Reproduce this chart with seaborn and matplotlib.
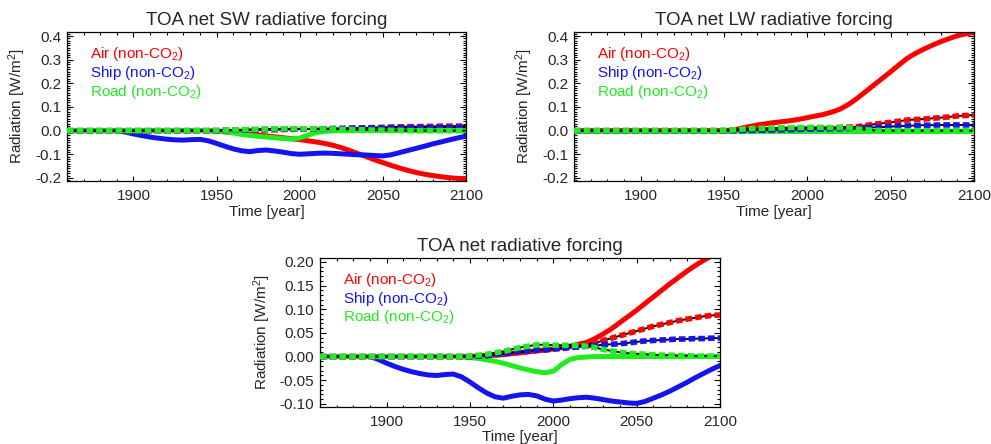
import matplotlib
matplotlib.use("Agg")
import matplotlib.pyplot as plt
import seaborn as sns
from matplotlib.ticker import MultipleLocator, FormatStrFormatter

# years 1860..2100, every 5 years
years = list(range(1860, 2101, 5))

# --- TOA net SW ---
sw_air = [0, 0, 0, 0, 0, 0, 0, 0, 0, 0,
          0, 0, 0, 0, 0, 0, 0, 0, -0.003, -0.005,
          -0.008, -0.011, -0.015, -0.018, -0.022, -0.026, -0.030, -0.034, -0.038, -0.043,
          -0.048, -0.054, -0.062, -0.072, -0.084, -0.097, -0.110, -0.123, -0.135, -0.147,
          -0.158, -0.168, -0.177, -0.184, -0.190, -0.195, -0.199, -0.202, -0.203]
sw_ship = [0, 0, 0, 0, 0, 0, 0, -0.006, -0.014, -0.021,
           -0.027, -0.032, -0.036, -0.039, -0.040, -0.038, -0.037, -0.043, -0.054, -0.066,
           -0.077, -0.085, -0.089, -0.084, -0.082, -0.086, -0.091, -0.097, -0.100, -0.098,
           -0.096, -0.095, -0.096, -0.098, -0.100, -0.102, -0.103, -0.105, -0.107, -0.102,
           -0.093, -0.084, -0.075, -0.066, -0.056, -0.048, -0.039, -0.031, -0.023]
sw_road = [0, 0, 0, 0, 0, 0, 0, 0, 0, 0,
           0, 0, 0, 0, 0, 0, 0, 0, -0.002, -0.005,
           -0.010, -0.016, -0.020, -0.024, -0.027, -0.030, -0.033, -0.036, -0.031, -0.019,
           -0.008, -0.003, -0.001, 0, 0, 0, 0, 0, 0, 0,
           0, 0, 0, 0, 0, 0, 0, 0, 0]
sw_air_d = [0, 0, 0, 0, 0, 0, 0, 0, 0, 0,
            0, 0, 0, 0, 0, 0, 0, 0, 0.000, 0.001,
            0.002, 0.002, 0.003, 0.003, 0.004, 0.004, 0.005, 0.005, 0.006, 0.006,
            0.007, 0.008, 0.008, 0.009, 0.010, 0.011, 0.012, 0.013, 0.014, 0.015,
            0.016, 0.017, 0.017, 0.018, 0.018, 0.019, 0.019, 0.019, 0.020]
sw_ship_d = [0, 0, 0, 0, 0, 0, 0, 0, 0, 0,
             0, 0, 0, 0, 0, 0, 0, 0, 0.000, 0.001,
             0.002, 0.003, 0.003, 0.004, 0.005, 0.005, 0.006, 0.006, 0.007, 0.007,
             0.008, 0.008, 0.009, 0.009, 0.010, 0.011, 0.011, 0.012, 0.012, 0.013,
             0.013, 0.013, 0.014, 0.014, 0.014, 0.015, 0.015, 0.015, 0.015]
sw_road_d = [0, 0, 0, 0, 0, 0, 0, 0, 0, 0,
             0, 0, 0, 0, 0, 0, 0, 0, 0.001, 0.002,
             0.003, 0.004, 0.005, 0.006, 0.007, 0.008, 0.008, 0.008, 0.008, 0.008,
             0.008, 0.007, 0.007, 0.006, 0.005, 0.004, 0.003, 0.002, 0.002, 0.001,
             0.001, 0.000, 0, 0, 0, 0, 0, 0, 0]

# --- TOA net LW ---
lw_air = [0, 0, 0, 0, 0, 0, 0, 0, 0, 0,
          0, 0, 0, 0, 0, 0, 0, 0, 0, 0.002,
          0.010, 0.017, 0.024, 0.029, 0.034, 0.038, 0.042, 0.048, 0.055, 0.062,
          0.069, 0.079, 0.092, 0.112, 0.137, 0.165, 0.193, 0.221, 0.249, 0.278,
          0.306, 0.327, 0.345, 0.361, 0.376, 0.389, 0.401, 0.409, 0.415]
lw_ship = [0, 0, 0, 0, 0, 0, 0, 0, 0, 0,
           0, 0, 0, 0, 0, 0, 0, 0, 0, 0,
           0, 0, 0, 0, 0, 0, 0, 0, 0, 0,
           0, 0, 0, 0, 0, 0, 0, 0, 0, 0,
           0, 0, 0, 0, 0, 0, 0, 0, 0]
lw_road = [0, 0, 0, 0, 0, 0, 0, 0, 0, 0,
           0, 0, 0, 0, 0, 0, 0, 0, 0, 0,
           0, 0, 0, 0, 0, 0, 0, 0, 0, 0,
           0, 0, 0, 0, 0, 0, 0, 0, 0, 0,
           0, 0, 0, 0, 0, 0, 0, 0, 0]
lw_air_d = [0, 0, 0, 0, 0, 0, 0, 0, 0, 0,
            0, 0, 0, 0, 0, 0, 0, 0, 0.000, 0.001,
            0.001, 0.002, 0.003, 0.004, 0.005, 0.006, 0.007, 0.008, 0.009, 0.010,
            0.011, 0.012, 0.014, 0.015, 0.017, 0.022, 0.027, 0.031, 0.035, 0.040,
            0.045, 0.047, 0.049, 0.052, 0.055, 0.058, 0.062, 0.064, 0.066]
lw_ship_d = [0, 0, 0, 0, 0, 0, 0, 0, 0, 0,
             0, 0, 0, 0, 0, 0, 0, 0, 0, 0,
             0.001, 0.001, 0.002, 0.002, 0.003, 0.004, 0.004, 0.005, 0.006, 0.006,
             0.007, 0.008, 0.008, 0.009, 0.010, 0.012, 0.014, 0.015, 0.017, 0.019,
             0.020, 0.022, 0.023, 0.023, 0.024, 0.024, 0.024, 0.024, 0.024]
lw_road_d = [0, 0, 0, 0, 0, 0, 0, 0, 0, 0,
             0, 0, 0, 0, 0, 0, 0, 0, 0.001, 0.003,
             0.006, 0.008, 0.009, 0.010, 0.011, 0.012, 0.013, 0.013, 0.014, 0.014,
             0.014, 0.013, 0.013, 0.012, 0.007, 0.004, 0.001, 0.000, 0, 0,
             0, 0, 0, 0, 0, 0, 0, 0, 0]

# --- TOA net ---
net_air = [0, 0, 0, 0, 0, 0, 0, 0, 0, 0,
           0, 0, 0, 0, 0, 0, 0, 0, 0.000, 0.001,
           0.002, 0.003, 0.004, 0.006, 0.008, 0.010, 0.012, 0.014, 0.016, 0.019,
           0.022, 0.026, 0.030, 0.038, 0.048, 0.059, 0.072, 0.085, 0.098, 0.112,
           0.126, 0.140, 0.154, 0.167, 0.180, 0.192, 0.203, 0.213, 0.224]
net_ship = [0, 0, 0, 0, 0, 0, 0, -0.006, -0.014, -0.021,
            -0.027, -0.032, -0.036, -0.039, -0.040, -0.038, -0.037, -0.043, -0.054, -0.066,
            -0.077, -0.085, -0.088, -0.084, -0.081, -0.080, -0.083, -0.090, -0.094, -0.092,
            -0.089, -0.087, -0.086, -0.088, -0.091, -0.094, -0.096, -0.098, -0.099, -0.095,
            -0.088, -0.081, -0.073, -0.064, -0.055, -0.045, -0.036, -0.027, -0.019]
net_road = [0, 0, 0, 0, 0, 0, 0, 0, 0, 0,
            0, 0, 0, 0, 0, 0, 0, -0.001, -0.002, -0.004,
            -0.007, -0.010, -0.014, -0.019, -0.024, -0.028, -0.032, -0.034, -0.031, -0.017,
            -0.006, -0.002, -0.001, 0, 0, 0, 0, 0, 0, 0,
            0, 0, 0, 0, 0, 0, 0, 0, 0]
net_air_d = [0, 0, 0, 0, 0, 0, 0, 0, 0, 0,
             0, 0, 0, 0, 0, 0, 0, 0, 0.000, 0.001,
             0.002, 0.004, 0.006, 0.008, 0.009, 0.011, 0.013, 0.014, 0.016, 0.018,
             0.020, 0.022, 0.025, 0.029, 0.034, 0.039, 0.044, 0.049, 0.054, 0.059,
             0.064, 0.068, 0.072, 0.076, 0.079, 0.082, 0.085, 0.087, 0.088]
net_ship_d = [0, 0, 0, 0, 0, 0, 0, 0, 0, 0,
              0, 0, 0, 0, 0, 0, 0, 0, 0.000, 0.001,
              0.002, 0.004, 0.006, 0.008, 0.011, 0.012, 0.013, 0.014, 0.016, 0.017,
              0.019, 0.020, 0.022, 0.023, 0.025, 0.026, 0.027, 0.029, 0.031, 0.033,
              0.034, 0.035, 0.036, 0.037, 0.037, 0.038, 0.038, 0.039, 0.039]
net_road_d = [0, 0, 0, 0, 0, 0, 0, 0, 0, 0,
              0, 0, 0, 0, 0, 0, 0, 0, 0.001, 0.003,
              0.005, 0.008, 0.011, 0.015, 0.019, 0.022, 0.025, 0.025, 0.024, 0.024,
              0.024, 0.023, 0.022, 0.019, 0.015, 0.012, 0.009, 0.007, 0.006, 0.005,
              0.004, 0.003, 0.003, 0.002, 0.002, 0.001, 0.001, 0.001, 0.001]

labels = ["Air (non-CO$_2$)", "Ship (non-CO$_2$)", "Road (non-CO$_2$)"]
colors = ["#ff0000", "#1414f0", "#20ec20"]

sns.set_style("ticks")
plt.rcParams["font.family"] = ["Liberation Sans", "DejaVu Sans"]
plt.rcParams["mathtext.default"] = "regular"


def draw_panel(ax, title, solids, dashed, ylim, major, fmt):
    for vals, c in zip(solids, colors):
        sns.lineplot(x=years, y=vals, ax=ax, color=c, linewidth=3.6, zorder=2)
    for vals, c in zip(dashed, colors):
        sns.lineplot(x=years, y=vals, ax=ax, color="black", linewidth=1.4, zorder=3)
        sns.lineplot(x=years, y=vals, ax=ax, color=c, linewidth=4.0, zorder=4)
        ax.lines[-1].set_dashes((1.2, 0.55))
        ax.lines[-1].set_dash_capstyle("butt")
    ax.set_xlim(1860, 2100)
    ax.set_ylim(*ylim)
    ax.xaxis.set_major_locator(MultipleLocator(50))
    ax.xaxis.set_minor_locator(MultipleLocator(10))
    ax.yaxis.set_major_locator(MultipleLocator(major))
    ax.yaxis.set_minor_locator(MultipleLocator(0.01))
    ax.yaxis.set_major_formatter(FormatStrFormatter(fmt))
    ax.tick_params(which="both", direction="in", top=True, right=True,
                   labelsize=11, color="black", width=0.8)
    ax.tick_params(axis="x", which="major", length=3.5, pad=6)
    ax.tick_params(axis="x", which="minor", length=1.8)
    ax.tick_params(axis="y", which="major", length=4.5, pad=4)
    ax.tick_params(axis="y", which="minor", length=2.5)
    for sp in ax.spines.values():
        sp.set_visible(True)
        sp.set_linewidth(0.9)
        sp.set_color("black")
    ax.set_title(title, fontsize=13.5, pad=5)
    ax.set_xlabel("Time [year]", fontsize=11, labelpad=1)
    ax.set_ylabel("Radiation [W/m$^2$]", fontsize=11, labelpad=5)
    for i, (lab, c) in enumerate(zip(labels, colors)):
        ax.text(0.058, 0.85 - 0.125 * i, lab, color=c, fontsize=11,
                transform=ax.transAxes, va="center", ha="left")


fig = plt.figure(figsize=(9.91, 4.44), dpi=100)
ax1 = fig.add_axes([0.0676, 0.5923, 0.4026, 0.3356])
ax2 = fig.add_axes([0.5792, 0.5923, 0.4036, 0.3356])
ax3 = fig.add_axes([0.3229, 0.0840, 0.4036, 0.3356])

draw_panel(ax1, "TOA net SW radiative forcing",
           [sw_air, sw_ship, sw_road], [sw_air_d, sw_ship_d, sw_road_d],
           (-0.213, 0.417), 0.1, "%.1f")
draw_panel(ax2, "TOA net LW radiative forcing",
           [lw_air, lw_ship, lw_road], [lw_air_d, lw_ship_d, lw_road_d],
           (-0.213, 0.417), 0.1, "%.1f")
draw_panel(ax3, "TOA net radiative forcing",
           [net_air, net_ship, net_road], [net_air_d, net_ship_d, net_road_d],
           (-0.106, 0.209), 0.05, "%.2f")

fig.savefig("out.png", dpi=100)
